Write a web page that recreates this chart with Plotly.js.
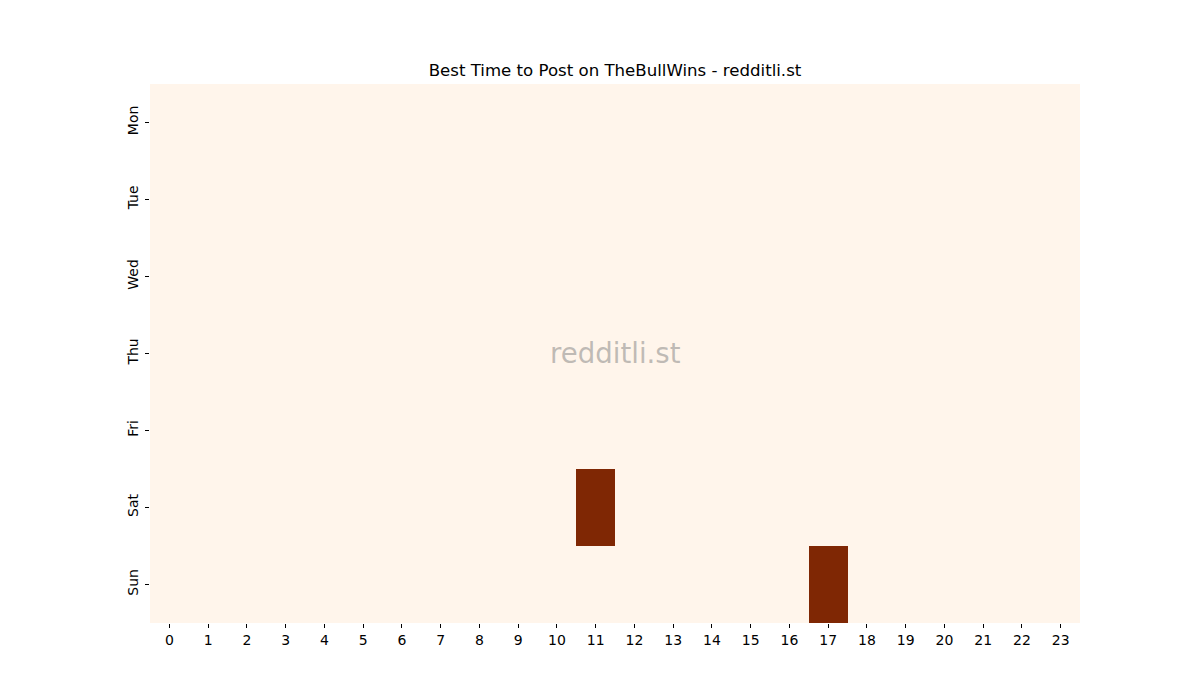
<!DOCTYPE html>
<html>
<head>
<meta charset="utf-8">
<script src="https://cdn.plot.ly/plotly-3.0.1.min.js"></script>
<style>html,body{margin:0;padding:0;background:#fff;}#chart{width:1200px;height:700px;}</style>
</head>
<body>
<div id="chart"></div>
<script>
const days = ["Mon", "Tue", "Wed", "Thu", "Fri", "Sat", "Sun"];
const hours = ["0","1","2","3","4","5","6","7","8","9","10","11","12","13","14","15","16","17","18","19","20","21","22","23"];
const monValues = [0,0,0,0,0,0,0,0,0,0,0,0,0,0,0,0,0,0,0,0,0,0,0,0];
const tueValues = [0,0,0,0,0,0,0,0,0,0,0,0,0,0,0,0,0,0,0,0,0,0,0,0];
const wedValues = [0,0,0,0,0,0,0,0,0,0,0,0,0,0,0,0,0,0,0,0,0,0,0,0];
const thuValues = [0,0,0,0,0,0,0,0,0,0,0,0,0,0,0,0,0,0,0,0,0,0,0,0];
const friValues = [0,0,0,0,0,0,0,0,0,0,0,0,0,0,0,0,0,0,0,0,0,0,0,0];
const satValues = [0,0,0,0,0,0,0,0,0,0,0,1,0,0,0,0,0,0,0,0,0,0,0,0];
const sunValues = [0,0,0,0,0,0,0,0,0,0,0,0,0,0,0,0,0,1,0,0,0,0,0,0];

const z = [monValues, tueValues, wedValues, thuValues, friValues, satValues, sunValues];

const oranges = [
  [0.0, "#fff5eb"], [0.125, "#fee6ce"], [0.25, "#fdd0a2"], [0.375, "#fdae6b"],
  [0.5, "#fd8d3c"], [0.625, "#f16913"], [0.75, "#d94801"], [0.875, "#a63603"], [1.0, "#7f2704"]
];

const font = {family: "DejaVu Sans, sans-serif", size: 14, color: "#000"};

const trace = {
  type: "heatmap",
  x: hours,
  y: days,
  z: z,
  colorscale: oranges,
  showscale: false,
  xgap: 0, ygap: 0,
  hoverinfo: "x+y+z"
};

const layout = {
  width: 1200, height: 700,
  margin: {l: 150, r: 120, t: 84, b: 77},
  paper_bgcolor: "#fff",
  plot_bgcolor: "#fff",
  font: font,
  title: {text: "Best Time to Post on TheBullWins - redditli.st", font: {family: "DejaVu Sans, sans-serif", size: 16.6, color: "#000"}, x: 0.5125, xanchor: "center", y: 0.9, yanchor: "middle"},
  xaxis: {type: "category", showgrid: false, zeroline: false, showline: false, ticks: "outside", ticklen: 4, tickwidth: 1, tickcolor: "#000", tickfont: font, fixedrange: true},
  yaxis: {type: "category", autorange: "reversed", showgrid: false, zeroline: false, showline: false, ticks: "outside", ticklen: 4, tickwidth: 1, tickcolor: "#000", tickfont: font, tickangle: -90, ticklabelstandoff: 1, fixedrange: true},
  annotations: [{
    text: "redditli.st", xref: "paper", yref: "paper", x: 0.5, y: 0.5, xanchor: "center", yanchor: "middle",
    showarrow: false, font: {family: "DejaVu Sans, sans-serif", size: 27.6, color: "rgba(128,128,128,0.5)"}
  }]
};

Plotly.newPlot("chart", [trace], layout, {displayModeBar: false, staticPlot: true});
</script>
</body>
</html>
